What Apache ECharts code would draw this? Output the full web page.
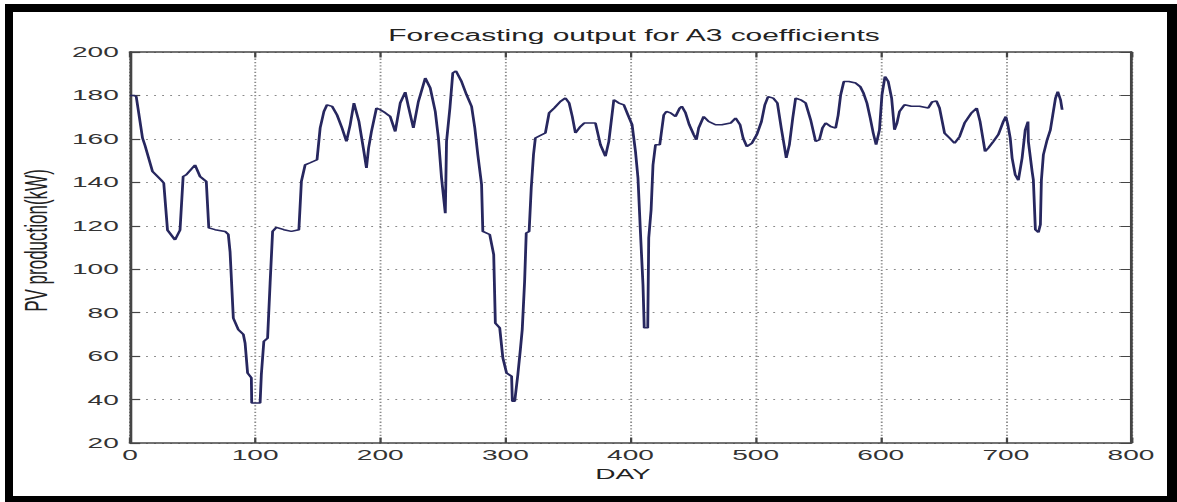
<!DOCTYPE html>
<html>
<head>
<meta charset="utf-8">
<title>Forecasting output for A3 coefficients</title>
<script src="https://cdn.jsdelivr.net/npm/echarts@6/dist/echarts.min.js"></script>
<style>
  html, body { margin: 0; padding: 0; background: #fff; overflow: hidden; width: 1177px; height: 502px; }
  /* the figure is laid out narrow and widened horizontally, like the exported MATLAB plot */
  #chart { position: absolute; left: 0; top: 0; width: 629.4px; height: 502px;
           transform: scaleX(1.87); transform-origin: 0 0; }
  #frame { position: absolute; left: 5px; top: 4px; width: 1172px; height: 498px; box-sizing: border-box;
           border-style: solid; border-color: #000; border-width: 8px 10px 6px 8px; pointer-events: none; }
</style>
</head>
<body>
<div id="chart"></div>
<div id="frame"></div>
<script>
// Forecast PV production (kW) per day
const days = [
  0, 3, 5, 10, 12, 18, 25, 27, 30, 36, 40, 42.5, 45, 52, 56, 61, 63, 68, 76, 78.6,
  80, 82.6, 86.6, 90.6, 92, 94, 97, 97.3, 101, 104, 105, 107, 110, 112, 114, 117, 123, 129, 135, 137,
  140, 144, 149.5, 152, 155, 157.5, 161.5, 165.5, 169.5, 173, 176, 179, 183, 187, 189, 190.7, 193, 197, 200, 204,
  208, 212, 216, 220, 222.5, 226.5, 230.5, 236, 240, 244, 246.5, 249, 252, 252.5, 253, 255.7, 258, 260.5, 265, 269,
  273, 275.6, 278, 281, 282, 287.5, 290.7, 292, 295.5, 298, 301, 305, 305.6, 307.5, 310, 312, 313.5, 315.4, 316.7, 319,
  320.7, 322.5, 324, 329.5, 332, 335, 339, 344, 348, 351, 353.5, 356, 360, 363, 372, 376, 380, 382.7, 386.7, 390.7,
  394.7, 398, 401.3, 404, 406, 408, 410, 411, 413.8, 414.6, 416.5, 418, 420, 423.4, 424.5, 426.6, 428.7, 432, 436, 439.4,
  441, 444, 447, 450.5, 452.7, 454.5, 458.5, 462.5, 468, 473, 480, 484, 487.6, 490, 493, 497, 501, 504.7, 507.4, 510,
  514, 517.4, 520.5, 523, 524.5, 527, 529.7, 532, 536, 540, 544, 548, 551, 553.4, 556, 560, 564, 566, 568, 570.5,
  574.5, 580, 583.7, 586.3, 589, 591.6, 594, 596.3, 599, 601, 603.4, 606, 608.7, 611, 613, 615, 619, 624.5, 631, 638,
  641, 644.5, 647, 651, 655, 659, 663, 667, 672.6, 676.7, 679.4, 683.4, 686, 690, 694, 698, 700, 701.6, 703.5, 705,
  707.5, 710, 713, 715.5, 717.7, 718, 721, 722, 723.6, 726, 727.6, 728.4, 730, 733, 735.6, 737.5, 739.7, 741.5, 743.7, 745
];
const pv = [
  180, 180, 179.5, 160.5, 157, 145, 141, 139.7, 118, 113.5, 118, 142.7, 143.5, 148, 142.7, 140.4, 119, 118.2, 117.4, 116,
  108, 77.5, 72.2, 70, 66, 52.2, 50, 38.4, 38.4, 38.4, 51.5, 66.8, 68.3, 93.6, 117.4, 119.3, 118.2, 117.4, 118.2, 140.4,
  148, 149, 150.4, 165, 172.6, 175.7, 175, 171, 165, 158.8, 166.5, 176.5, 168, 154, 146.6, 155.8, 163.4, 174.2, 173.4, 172,
  170.3, 163.4, 176.5, 181.5, 175, 165, 177.2, 188, 183.4, 172.6, 160.4, 142, 125.8, 142, 158.8, 174.2, 190.3, 191.3, 186.4, 180.3,
  175, 165, 152.7, 139, 117.4, 116, 106.7, 75.2, 73, 59.2, 52.2, 50.7, 39.2, 39.2, 51.5, 63, 72.2, 94.4, 116.7, 117.4,
  137.4, 152.7, 160.4, 162, 162.7, 172, 174.2, 177.2, 178.8, 176.5, 170.3, 162.7, 165.7, 167.3, 167.3, 157.3, 152, 158.8, 178, 176.5,
  175.7, 171, 166.5, 154.2, 142, 116.7, 92.9, 73, 73, 114.4, 127.4, 148, 157.3, 157.3, 162, 171, 172.6, 172, 170.3, 174.2,
  175, 172, 166.5, 162, 159.6, 165, 170.3, 168, 166.5, 166.5, 167.3, 169.6, 166.5, 160.4, 156.5, 158, 162, 168, 175.7, 179.5,
  178.8, 176.5, 165, 156.5, 151.2, 157.3, 169.6, 178.8, 178, 176.5, 168.8, 158.8, 159.6, 165, 167.3, 165.7, 165, 171, 180.3, 186.4,
  186.4, 185.7, 184, 181, 176.5, 169.6, 162.7, 157.3, 164.2, 180.3, 188.7, 186.4, 178.8, 164.2, 167.3, 172.6, 175.7, 175, 175, 174.2,
  177, 177.5, 174.2, 162.7, 160.4, 158, 161, 167.3, 172, 174.2, 168, 154.2, 155.8, 158.8, 162, 168, 170.3, 166.5, 160.4, 151.2,
  143.5, 141, 151.2, 164.2, 168, 158.8, 145, 141, 118.2, 117, 120.5, 141, 152.7, 159.6, 164.2, 171, 178.8, 181.8, 178, 173.4
];

// axis ranges and tick steps
const xRange = [0, 800, 100];
const yRange = [20, 200, 20];

const axisColor = '#454545';
const gridColor = '#8a8a8a';
const fontFamily = '"Liberation Sans", Arial, Helvetica, sans-serif';

const series = days.map((d, i) => [d, pv[i]]);

function valueAxis(range, extra) {
  return Object.assign({
    type: 'value',
    min: range[0],
    max: range[1],
    interval: range[2],
    axisLine: { show: true, onZero: false, lineStyle: { color: axisColor, width: 1.5 } },
    axisTick: { show: true, inside: true, length: 5.5, lineStyle: { color: axisColor, width: 1.2 } },
    axisLabel: { show: false },
    splitLine: { show: false }
  }, extra);
}

const chart = echarts.init(document.getElementById('chart'), null, { renderer: 'svg' });
chart.setOption({
  animation: false,
  backgroundColor: '#fff',
  title: {
    text: 'Forecasting output for A3 coefficients',
    left: 334,
    top: 22,
    textAlign: 'center',
    textStyle: { fontFamily, fontSize: 16, fontWeight: 'normal', color: '#222' }
  },
  grid: { left: 69.5, right: 24.2, top: 52, bottom: 59, containLabel: false },
  xAxis: [
    valueAxis(xRange, {
      position: 'bottom',
      name: 'DAY',
      nameLocation: 'middle',
      nameGap: 22,
      nameTextStyle: { fontFamily, fontSize: 15, color: '#222', padding: [0, 8, 0, 0] },
      axisLabel: { show: true, margin: 4, fontFamily, fontSize: 15, color: '#333' },
      splitLine: { show: true, lineStyle: { color: gridColor, width: 1, type: [1.3, 2] } }
    }),
    valueAxis(xRange, { position: 'top' })
  ],
  yAxis: [
    valueAxis(yRange, {
      position: 'left',
      name: 'PV production(kW)',
      nameLocation: 'middle',
      nameGap: 38,
      nameTextStyle: { fontFamily, fontSize: 17, color: '#222', padding: [0, 0, 0, 14] },
      axisLabel: { show: true, margin: 6, fontFamily, fontSize: 15, color: '#333' },
      splitLine: { show: true, lineStyle: { color: gridColor, width: 1, type: [1, 3.3] } }
    }),
    valueAxis(yRange, { position: 'right' })
  ],
  series: [{
    type: 'line',
    data: series,
    xAxisIndex: 0,
    yAxisIndex: 0,
    showSymbol: false,
    symbol: 'none',
    lineStyle: { color: '#27275f', width: 1.5 },
    z: 5
  }]
});
</script>
</body>
</html>
